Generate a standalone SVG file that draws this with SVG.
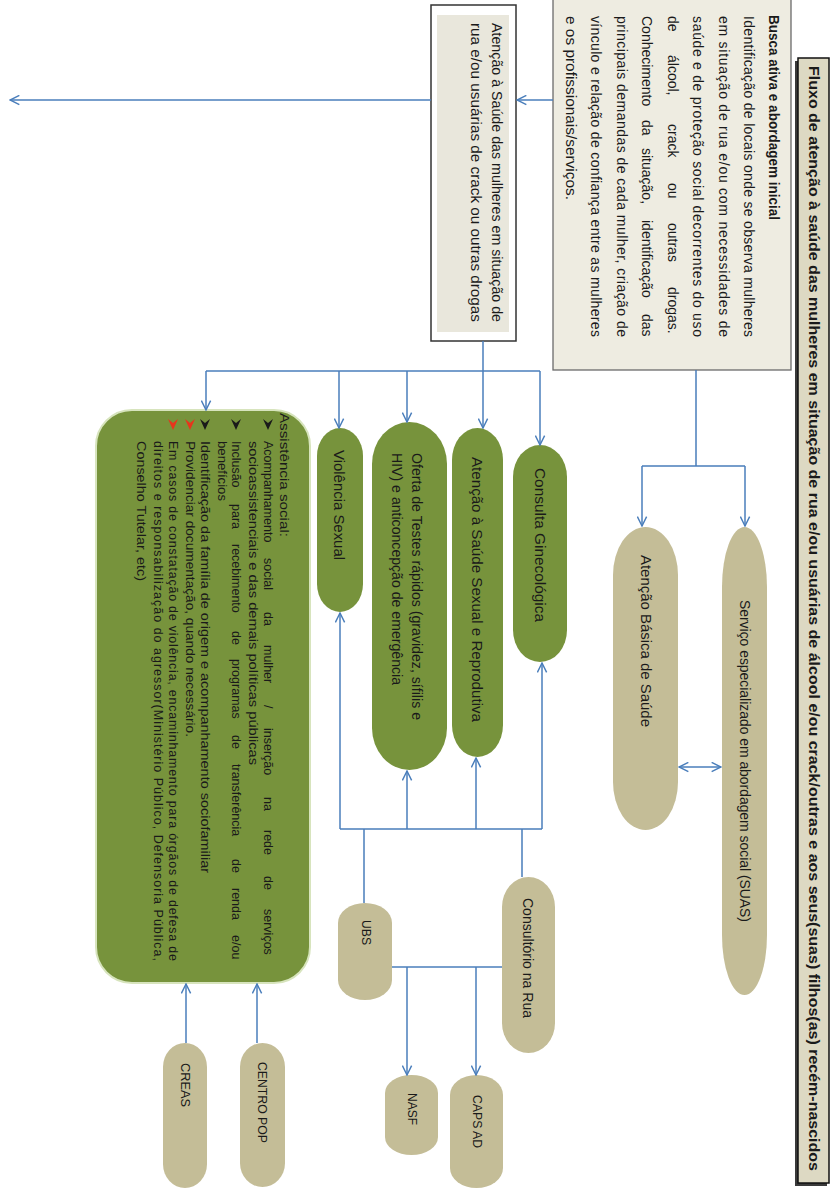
<svg xmlns="http://www.w3.org/2000/svg" width="832" height="1191" viewBox="0 0 832 1191">
<defs>
<marker id="ah" viewBox="0 0 10 10" refX="9.5" refY="5" markerWidth="11" markerHeight="11" markerUnits="userSpaceOnUse" orient="auto-start-reverse">
<path d="M1,0.8 L9.5,5 L1,9.2" fill="none" stroke="#4a7ebb" stroke-width="1.3"/>
</marker>
<style>
.t{font-family:"Liberation Sans",Arial,sans-serif;fill:#1a1a1a;dominant-baseline:central;}
.b{font-weight:bold;}
.s{font-size:13px;}
.m{font-size:14px;}
.x{font-size:12.5px;}
.beige{fill:#c4bd97;}
.green{fill:#77933c;}
.c{fill:none;stroke:#4a7ebb;stroke-width:1.5;}
.a{marker-end:url(#ah);}
</style>
</defs>
<rect width="832" height="1191" fill="#ffffff"/>

<g id="title">
<rect x="795" y="61" width="32" height="1125" fill="#3a3a3a"/>
<rect x="798" y="58" width="31" height="1125" fill="#ddd9c3" stroke="#111" stroke-width="1.5"/>
<text class="t b" font-size="14" transform="translate(814,66) rotate(90)" textLength="1105" lengthAdjust="spacingAndGlyphs">Fluxo de atenção à saúde das mulheres em situação de rua e/ou usuárias de álcool e/ou crack/outras e aos seus(suas) filhos(as) recém-nascidos</text>
</g>

<g id="busca">
<rect x="553" y="-2" width="238" height="372" fill="#eeece1" stroke="#6b6b6b" stroke-width="1.3"/>
<text class="t b m" transform="translate(774,15) rotate(90)" textLength="205" lengthAdjust="spacingAndGlyphs">Busca ativa e abordagem inicial</text>
<text class="t m" transform="translate(749,16) rotate(90)" textLength="321" lengthAdjust="spacing">Identificação de locais onde se observa mulheres</text>
<text class="t m" transform="translate(723.5,16) rotate(90)" textLength="321" lengthAdjust="spacing">em situação de rua e/ou com necessidades de</text>
<text class="t m" transform="translate(698,16) rotate(90)" textLength="321" lengthAdjust="spacing">saúde e de proteção social decorrentes do uso</text>
<text class="t m" transform="translate(672.5,0) rotate(90)"><tspan x="16">de</tspan><tspan x="55">álcool,</tspan><tspan x="124">crack</tspan><tspan x="183">ou</tspan><tspan x="223">outras</tspan><tspan x="287">drogas.</tspan></text>
<text class="t m" transform="translate(647,0) rotate(90)"><tspan x="16">Conhecimento</tspan><tspan x="120">da</tspan><tspan x="148">situação,</tspan><tspan x="220">identificação</tspan><tspan x="314">das</tspan></text>
<text class="t m" transform="translate(621.5,16) rotate(90)" textLength="321" lengthAdjust="spacing">principais demandas de cada mulher, criação de</text>
<text class="t m" transform="translate(596,16) rotate(90)" textLength="321" lengthAdjust="spacing">vínculo e relação de confiança entre as mulheres</text>
<text class="t m" transform="translate(570.5,16) rotate(90)" textLength="184" lengthAdjust="spacingAndGlyphs">e os profissionais/serviços.</text>
</g>

<g id="atencao-mulheres">
<rect x="431" y="5" width="85" height="336" fill="#ffffff" stroke="#333" stroke-width="1.5"/>
<rect x="437" y="15" width="72" height="317" fill="#e9e7dc"/>
<text class="t m" fill="#000" transform="translate(497,23) rotate(90)" textLength="299" lengthAdjust="spacingAndGlyphs">Atenção à Saúde das mulheres em situação de</text>
<text class="t m" fill="#000" transform="translate(476,23) rotate(90)" textLength="299" lengthAdjust="spacingAndGlyphs">rua e/ou usuárias de crack ou outras drogas</text>
</g>

<g id="servico-suas">
<rect class="beige" x="722" y="527" width="45" height="468" rx="22.5" ry="60"/>
<text class="t m" transform="translate(745,600) rotate(90)" textLength="322" lengthAdjust="spacingAndGlyphs">Serviço especializado em abordagem social (SUAS)</text>
</g>

<g id="atencao-basica">
<rect class="beige" x="613" y="527" width="65" height="303" rx="32.5" ry="48"/>
<text class="t m" transform="translate(646,555) rotate(90)" textLength="172" lengthAdjust="spacingAndGlyphs">Atenção Básica de Saúde</text>
</g>

<g id="consulta">
<rect class="green" x="513" y="445" width="54" height="217" rx="27" ry="32"/>
<text class="t m" transform="translate(540,468) rotate(90)" textLength="154" lengthAdjust="spacingAndGlyphs">Consulta Ginecológica</text>
</g>

<g id="saude-sexual">
<rect class="green" x="452" y="428" width="51" height="329" rx="25.5" ry="32"/>
<text class="t m" transform="translate(477,457) rotate(90)" textLength="265" lengthAdjust="spacingAndGlyphs">Atenção à Saúde Sexual e Reprodutiva</text>
</g>

<g id="testes">
<rect class="green" x="372" y="422" width="75" height="348" rx="37.5" ry="42"/>
<text class="t m" transform="translate(417,453) rotate(90)" textLength="267" lengthAdjust="spacingAndGlyphs">Oferta de Testes rápidos (gravidez, sífilis e</text>
<text class="t m" transform="translate(397,453) rotate(90)" textLength="232" lengthAdjust="spacingAndGlyphs">HIV) e anticoncepção de emergência</text>
</g>

<g id="violencia">
<rect class="green" x="317" y="428" width="46" height="184" rx="23" ry="28"/>
<text class="t m" transform="translate(339,450) rotate(90)" textLength="110" lengthAdjust="spacingAndGlyphs">Violência Sexual</text>
</g>

<g id="assistencia-social">
<rect class="green" x="96" y="410" width="214" height="573" rx="36" ry="36" stroke="#d7e4bd" stroke-width="2"/>
<text class="t x" transform="translate(284,413) rotate(90)" textLength="124" lengthAdjust="spacingAndGlyphs">Assistência social:</text>
<path d="M263,419 L268,430 L273,419 L268,423 Z" fill="#1a1a1a"/>
<text class="t x" transform="translate(268,0) rotate(90)"><tspan x="441">Acompanhamento</tspan><tspan x="558">social</tspan><tspan x="612">da</tspan><tspan x="645">mulher</tspan><tspan x="705">/</tspan><tspan x="728">inserção</tspan><tspan x="797">na</tspan><tspan x="830">rede</tspan><tspan x="876">de</tspan><tspan x="909">serviços</tspan></text>
<text class="t x" transform="translate(253,441) rotate(90)" textLength="324" lengthAdjust="spacingAndGlyphs">socioassistenciais e das demais políticas públicas</text>
<path d="M231,419 L236,430 L241,419 L236,423 Z" fill="#1a1a1a"/>
<text class="t x" transform="translate(236,0) rotate(90)"><tspan x="441">Inclusão</tspan><tspan x="504">para</tspan><tspan x="544">recebimento</tspan><tspan x="631">de</tspan><tspan x="659">programas</tspan><tspan x="735">de</tspan><tspan x="764">transferência</tspan><tspan x="859">de</tspan><tspan x="888">renda</tspan><tspan x="935">e/ou</tspan></text>
<text class="t x" transform="translate(222,441) rotate(90)" textLength="60" lengthAdjust="spacingAndGlyphs">benefícios</text>
<path d="M200,419 L205,430 L210,419 L205,423 Z" fill="#1a1a1a"/>
<text class="t x" transform="translate(205,441) rotate(90)" textLength="432" lengthAdjust="spacingAndGlyphs">Identificação da família de origem e acompanhamento sociofamiliar</text>
<path d="M185,419 L190,430 L195,419 L190,423 Z" fill="#e8341c"/>
<text class="t x" transform="translate(190,441) rotate(90)" textLength="296" lengthAdjust="spacingAndGlyphs">Providenciar documentação, quando necessário.</text>
<path d="M168,419 L173,430 L178,419 L173,423 Z" fill="#e8341c"/>
<text class="t x" transform="translate(173,441) rotate(90)" textLength="520" lengthAdjust="spacing">Em casos de constatação de violência, encaminhamento para órgãos de defesa de</text>
<text class="t x" transform="translate(158,441) rotate(90)" textLength="520" lengthAdjust="spacing">direitos e responsabilização do agressor(Ministério Público, Defensoria Pública,</text>
<text class="t x" transform="translate(141,441) rotate(90)" textLength="140" lengthAdjust="spacingAndGlyphs">Conselho Tutelar, etc)</text>
</g>

<g id="ubs">
<rect class="beige" x="338" y="903" width="54" height="97" rx="27" ry="20"/>
<text class="t s" transform="translate(366,920) rotate(90)" textLength="25" lengthAdjust="spacingAndGlyphs">UBS</text>
</g>

<g id="consultorio">
<rect class="beige" x="502" y="877" width="53" height="176" rx="26.5" ry="30"/>
<text class="t m" transform="translate(528,898) rotate(90)" textLength="120" lengthAdjust="spacingAndGlyphs">Consultório na Rua</text>
</g>

<g id="nasf">
<rect class="beige" x="385" y="1075" width="53" height="80" rx="26.5" ry="18"/>
<text class="t s" transform="translate(412,1093) rotate(90)" textLength="32" lengthAdjust="spacingAndGlyphs">NASF</text>
</g>

<g id="caps">
<rect class="beige" x="450" y="1075" width="53" height="113" rx="26.5" ry="20"/>
<text class="t s" transform="translate(477,1095) rotate(90)" textLength="53" lengthAdjust="spacingAndGlyphs">CAPS AD</text>
</g>

<g id="creas">
<rect class="beige" x="163" y="1043" width="44" height="145" rx="22" ry="24"/>
<text class="t s" transform="translate(185,1063) rotate(90)" textLength="44" lengthAdjust="spacingAndGlyphs">CREAS</text>
</g>

<g id="centro-pop">
<rect class="beige" x="240" y="1043" width="45" height="144" rx="22.5" ry="24"/>
<text class="t s" transform="translate(262,1062) rotate(90)" textLength="81" lengthAdjust="spacingAndGlyphs">CENTRO POP</text>
</g>

<g id="connectors">
<line class="c a" x1="553" y1="100" x2="517" y2="100"/>
<line class="c a" x1="431" y1="100" x2="10" y2="100"/>
<path class="c" d="M696,370 V466 M642,466 H745"/>
<line class="c a" x1="642" y1="466" x2="642" y2="526"/>
<line class="c a" x1="745" y1="466" x2="745" y2="526"/>
<line class="c a" x1="679" y1="767" x2="721" y2="767" style="marker-start:url(#ah)"/>
<line class="c a" x1="483" y1="341" x2="483" y2="428"/>
<path class="c" d="M206,371 H540"/>
<line class="c a" x1="206" y1="371" x2="206" y2="410"/>
<line class="c a" x1="339" y1="371" x2="339" y2="428"/>
<line class="c a" x1="407" y1="371" x2="407" y2="422"/>
<line class="c a" x1="540" y1="371" x2="540" y2="445"/>
<path class="c" d="M340,829 H542 M364,903 V829 M522,877 V829"/>
<line class="c a" x1="340" y1="829" x2="340" y2="613"/>
<line class="c a" x1="407" y1="829" x2="407" y2="771"/>
<line class="c a" x1="476" y1="829" x2="476" y2="758"/>
<line class="c a" x1="542" y1="829" x2="542" y2="663"/>
<path class="c" d="M392,967 H502"/>
<line class="c a" x1="407" y1="967" x2="407" y2="1075"/>
<line class="c a" x1="476" y1="967" x2="476" y2="1075"/>
<line class="c a" x1="186" y1="1043" x2="186" y2="984"/>
<line class="c a" x1="257" y1="1043" x2="257" y2="984"/>
</g>
</svg>
